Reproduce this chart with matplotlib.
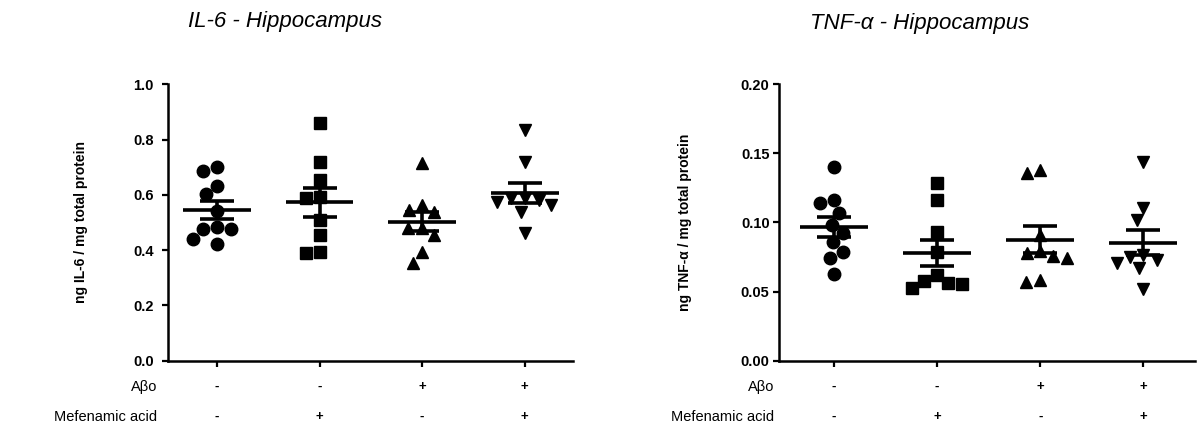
import numpy as np
import matplotlib
matplotlib.use("Agg")
import matplotlib.pyplot as plt
from matplotlib import transforms

plt.rcParams["font.family"] = ["Liberation Sans", "DejaVu Sans"]

# group labels under the x axis
abo = ["-", "-", "+", "+"]
mefenamic = ["-", "+", "-", "+"]
markers = ["o", "s", "^", "v"]

# ng IL-6 / mg total protein, one list per group
il6 = [
    [0.700, 0.688, 0.632, 0.602, 0.540, 0.485, 0.476, 0.475, 0.440, 0.422],
    [0.859, 0.720, 0.654, 0.592, 0.589, 0.509, 0.455, 0.394, 0.390],
    [0.714, 0.563, 0.545, 0.539, 0.479, 0.479, 0.455, 0.394, 0.355],
    [0.835, 0.718, 0.588, 0.588, 0.583, 0.573, 0.563, 0.539, 0.461],
]

# ng TNF-a / mg total protein
tnf = [
    [0.140, 0.1160, 0.1144, 0.1066, 0.0980, 0.0922, 0.0857, 0.0789, 0.0746, 0.0627],
    [0.1288, 0.1163, 0.0934, 0.0789, 0.0620, 0.0579, 0.0560, 0.0553, 0.0528],
    [0.138, 0.136, 0.091, 0.0796, 0.0777, 0.0758, 0.0745, 0.0584, 0.0572],
    [0.1436, 0.1107, 0.1018, 0.0765, 0.0753, 0.0729, 0.0704, 0.0668, 0.0516],
]


def swarm_offsets(values, px_per_y, px_per_x, diam):
    # simple beeswarm: put each point as close to the centre as it fits
    placed = []
    offs = []
    for v in values:
        y = v * px_per_y
        cands = [0.0]
        for px, py in placed:
            dy = abs(py - y)
            if dy < diam:
                dx = np.sqrt(diam ** 2 - dy ** 2)
                cands += [px - dx, px + dx]
        ok = [c for c in cands
              if all((c - px) ** 2 + (y - py) ** 2 >= diam ** 2 - 1e-6 for px, py in placed)]
        best = min(ok, key=abs)
        placed.append((best, y))
        offs.append(best / px_per_x)
    return offs


def draw_panel(ax, data, ymax, yticks, ylabel, label_x, row_gap, tick_pad):
    ax_h = 276.4
    for i, vals in enumerate(data):
        vals = np.array(vals)
        offs = swarm_offsets(vals, ax_h / ymax, 103.0, 14.0)
        ms = 9 if markers[i] == "o" else 8.5
        ax.plot(i + np.array(offs), vals, linestyle="none", marker=markers[i],
                color="black", markersize=ms, zorder=2)
        mean = vals.mean()
        sem = vals.std(ddof=1) / np.sqrt(len(vals))
        ax.hlines(mean, i - 0.33, i + 0.33, color="black", lw=2.6, zorder=3)
        ax.errorbar(i, mean, yerr=sem, color="black", elinewidth=2.6,
                    capsize=12, capthick=2.6, zorder=3)

    ax.set_ylim(0, ymax)
    ax.set_yticks(yticks)
    ax.set_xticks(range(4))
    ax.set_xticklabels([])
    ax.spines["top"].set_visible(False)
    ax.spines["right"].set_visible(False)
    ax.spines["left"].set_linewidth(1.8)
    ax.spines["bottom"].set_linewidth(1.8)
    ax.tick_params(axis="both", direction="out", length=4, width=1.6)
    ax.tick_params(axis="y", labelsize=10.5, pad=tick_pad)
    for lab in ax.get_yticklabels():
        lab.set_fontweight("bold")
    ax.set_ylabel(ylabel, fontsize=10, fontweight="bold")
    ax.yaxis.set_label_coords(label_x, 0.5)

    trans = transforms.blended_transform_factory(ax.transData, ax.transAxes)
    for i in range(4):
        ax.text(i, -0.095, abo[i], transform=trans, ha="center", va="center",
                fontsize=9.5, fontweight="bold")
        ax.text(i, -0.204, mefenamic[i], transform=trans, ha="center", va="center",
                fontsize=9.5, fontweight="bold")
    ax.annotate("Aβo", xy=(0, -0.095), xycoords="axes fraction", xytext=(-row_gap, 0),
                textcoords="offset points", ha="right", va="center", fontsize=10.5)
    ax.annotate("Mefenamic acid", xy=(0, -0.204), xycoords="axes fraction",
                xytext=(-row_gap, 0), textcoords="offset points", ha="right",
                va="center", fontsize=10.5)


fig = plt.figure(figsize=(12.01, 4.25), dpi=100)
ax1 = fig.add_axes([0.1396, 0.1513, 0.3375, 0.6504])
ax2 = fig.add_axes([0.6489, 0.1513, 0.3461, 0.6504])

draw_panel(ax1, il6, 1.0, [0.0, 0.2, 0.4, 0.6, 0.8, 1.0],
           "ng IL-6 / mg total protein", -0.197, 7.7, 6)
draw_panel(ax2, tnf, 0.20, [0.00, 0.05, 0.10, 0.15, 0.20],
           "ng TNF-α / mg total protein", -0.21, 3.6, 3)
ax1.set_xlim(-0.48, 3.47)
ax2.set_xlim(-0.53, 3.5)

fig.text(285 / 1201, 1 - 21 / 425, "IL-6 - Hippocampus", ha="center", va="center",
         fontsize=16, fontstyle="italic")
fig.text(920 / 1201, 1 - 23 / 425, "TNF-α - Hippocampus", ha="center", va="center",
         fontsize=16, fontstyle="italic")

fig.savefig("out.png", dpi=100)
